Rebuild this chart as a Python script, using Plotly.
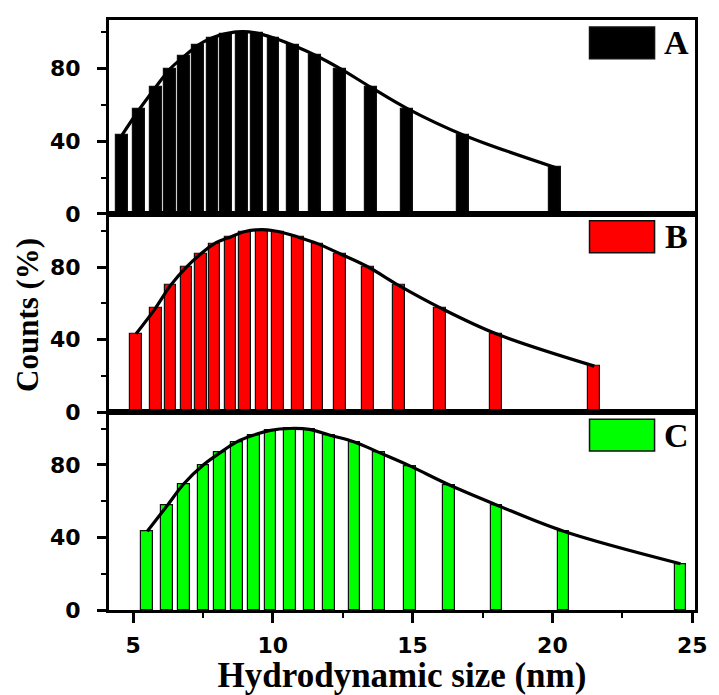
import plotly.graph_objects as go
from plotly.subplots import make_subplots

# ---- data ----
size_A = [4.61, 5.22, 5.81, 6.32, 6.83, 7.33, 7.84, 8.32, 8.89, 9.43,
          10.02, 10.72, 11.52, 12.41, 13.50, 14.81, 16.81, 20.10]
size_B = [5.11, 5.81, 6.34, 6.91, 7.43, 7.91, 8.49, 9.01, 9.60, 10.19,
          10.89, 11.60, 12.40, 13.41, 14.50, 15.99, 17.99, 21.50]
size_C = [5.51, 6.22, 6.81, 7.52, 8.12, 8.71, 9.32, 9.92, 10.61, 11.31,
          12.02, 12.92, 13.81, 14.90, 16.30, 18.00, 20.40, 24.58]
counts_A = [43.5, 57.5, 69.8, 79.8, 86.8, 93.0, 97.0, 99.3, 100.4, 99.6,
            97.0, 92.9, 87.4, 80.0, 69.8, 58.0, 43.5, 25.6]
counts_B = [43.2, 57.5, 69.9, 80.0, 87.3, 92.9, 96.6, 99.6, 100.6, 99.6,
            96.6, 92.9, 87.3, 80.0, 69.9, 57.5, 43.2, 25.4]
counts_C = [43.4, 57.5, 69.4, 80.0, 86.7, 92.6, 96.4, 99.0, 100.0, 99.5,
            96.4, 92.6, 86.7, 79.4, 69.0, 57.9, 43.4, 25.5]
labels = ["A", "B", "C"]
colors = ["#000000", "#FF0000", "#00FF00"]
x_ticks = [5, 10, 15, 20, 25]
y_ticks = [0, 40, 80]

sizes = [size_A, size_B, size_C]
counts = [counts_A, counts_B, counts_C]

fig = make_subplots(rows=3, cols=1, shared_xaxes=True, vertical_spacing=0)

for i in range(3):
    fig.add_trace(go.Bar(x=sizes[i], y=counts[i], width=0.42,
                         marker=dict(color=colors[i],
                                     line=dict(color="#111111", width=1.2)),
                         showlegend=False), row=i + 1, col=1)
    fig.add_trace(go.Scatter(x=sizes[i], y=counts[i], mode="lines",
                             line=dict(color="black", width=3.2, shape="spline",
                                       smoothing=1.0),
                             showlegend=False), row=i + 1, col=1)

domains = [[0.6714, 1.0], [0.3353, 0.6714], [0.0, 0.3353]]
yranges = [[0, 106.8], [0, 109.3], [0, 109.0]]

tickfont = dict(family="DejaVu Sans", size=22, color="black", weight="bold")

for i in range(3):
    yname = "yaxis" if i == 0 else f"yaxis{i+1}"
    fig.layout[yname].update(
        domain=domains[i], range=yranges[i], tickvals=y_ticks,
        ticks="outside", ticklen=9, tickwidth=2.5, tickcolor="black",
        minor=dict(dtick=20, tick0=0, ticks="outside", ticklen=5,
                   tickwidth=2, tickcolor="black", showgrid=False),
        showline=True, linewidth=3, linecolor="black", mirror=True,
        showgrid=False, zeroline=False, tickfont=tickfont,
        ticklabelstandoff=12)
    xname = "xaxis" if i == 0 else f"xaxis{i+1}"
    fig.layout[xname].update(
        range=[4.14, 25.1], showline=True, linewidth=3, linecolor="black",
        mirror=True, showgrid=False, zeroline=False)
    if i < 2:
        fig.layout[xname].update(showticklabels=False, ticks="")
    else:
        fig.layout[xname].update(
            tickvals=x_ticks, ticks="outside", ticklen=10, tickwidth=2.5,
            tickcolor="black",
            minor=dict(dtick=2.5, tick0=0, ticks="outside", ticklen=5,
                       tickwidth=2, tickcolor="black", showgrid=False),
            tickfont=tickfont, ticklabelstandoff=4,
            title=dict(text="Hydrodynamic size (nm)",
                       font=dict(family="Liberation Serif", size=35,
                                 color="black", weight="bold"),
                       standoff=0))

    # legend-like swatch and letter
    xref = "x domain" if i == 0 else f"x{i+1} domain"
    yref = "y domain" if i == 0 else f"y{i+1} domain"
    h = domains[i][1] - domains[i][0]
    top_off = 7 / (593.5 * h)
    bot_off = 39 / (593.5 * h)
    fig.add_shape(type="rect", xref=xref, yref=yref,
                  x0=0.82, x1=0.931, y0=1 - bot_off, y1=1 - top_off,
                  fillcolor=colors[i], line=dict(color="#111111", width=1.5))
    fig.add_annotation(xref=xref, yref=yref, x=0.968,
                       y=1 - (top_off + bot_off) / 2, text=labels[i],
                       showarrow=False, xanchor="center", yanchor="middle",
                       font=dict(family="Liberation Serif", size=34,
                                 color="black", weight="bold"))

fig.add_annotation(xref="paper", yref="paper", x=-0.14, y=0.5,
                   text="Counts (%)", textangle=-90, showarrow=False,
                   xanchor="center", yanchor="middle",
                   font=dict(family="Liberation Serif", size=31,
                             color="black", weight="bold"))

fig.update_layout(width=719, height=695,
                  margin=dict(l=109, r=14, t=20, b=81.5),
                  plot_bgcolor="white", paper_bgcolor="white",
                  bargap=0, showlegend=False)

fig.write_html("out.html")
